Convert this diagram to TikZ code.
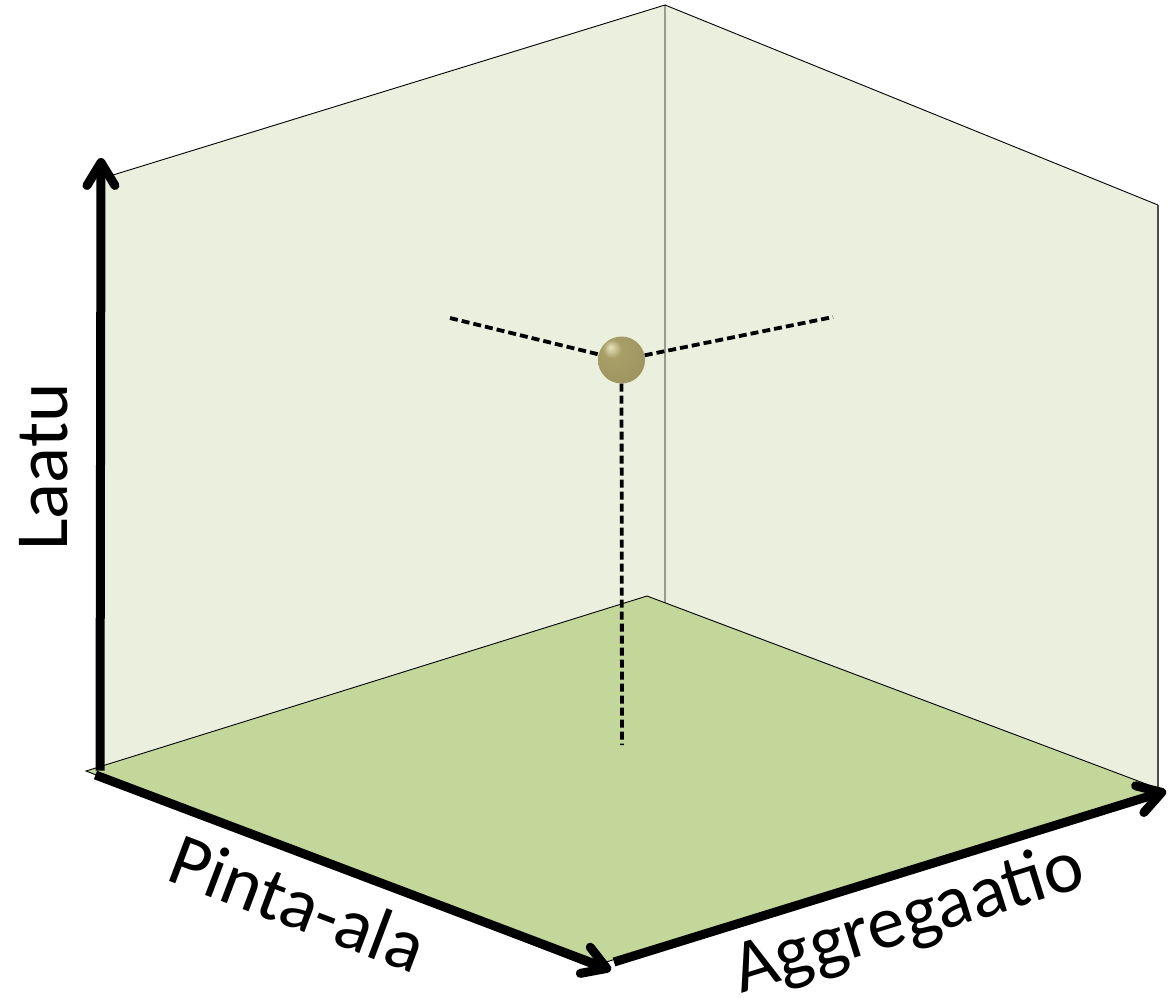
\documentclass[tikz,border=0pt]{standalone}
\usepackage{fontspec}
\setmainfont{Carlito}
\usetikzlibrary{arrows.meta}
\definecolor{wallc}{RGB}{235,240,222}
\definecolor{floorc}{RGB}{196,215,155}
\definecolor{ballhi}{RGB}{232,228,190}
\definecolor{ballc}{RGB}{168,158,104}
\definecolor{balldk}{RGB}{100,92,52}
\pgfdeclareradialshading{olivesphere}{\pgfpoint{-12bp}{14bp}}{%
  color(0bp)=(ballhi); color(10bp)=(ballc); color(34bp)=(ballc!85!balldk);
  color(48bp)=(balldk); color(60bp)=(balldk)}
\begin{document}
\begin{tikzpicture}[x=1pt,y=-1pt,
  axis/.style={line width=9pt,-{Straight Barb[length=23pt,width=28pt,round]}},
  edge/.style={line width=0.9pt,black},
  guide/.style={line width=3.8pt,dash pattern=on 8pt off 4pt},
  lab/.style={font=\fontsize{75}{85}\selectfont}]
\useasboundingbox (0,0) rectangle (1172,999);
% corners
\coordinate (LT) at (100,179);
\coordinate (BT) at (665,5);
\coordinate (BB) at (665,603);
\coordinate (RT) at (1158,205);
\coordinate (RB) at (1158,788);
\coordinate (FL) at (86,771);
\coordinate (FB) at (647,596);
\coordinate (FR) at (1162,790);
\coordinate (FF) at (590,967);
\coordinate (LB) at (100,766);
% walls
\fill[wallc] (LT) -- (BT) -- (BB) -- (FB) -- (LB) -- cycle;
\fill[wallc] (BT) -- (RT) -- (RB) -- (BB) -- cycle;
\draw[edge] (LT) -- (BT) -- (BB);
\draw[edge] (BT) -- (RT);
\draw[line width=1.2pt,black!70] (RT) -- (RB);
% floor
\filldraw[fill=floorc,draw=black,line width=0.9pt] (FL) -- (FB) -- (FR) -- (FF) -- cycle;
% guides and point
\node[circle,minimum size=47pt,inner sep=0pt,shading=olivesphere] (P) at (621.5,360) {};
\coordinate (GL) at (450,318);
\coordinate (GR) at (833,317);
\coordinate (GD) at (622,745);
\draw[guide] (GL) -- (P);
\draw[guide] (P) -- (GR);
\draw[guide] (P) -- (GD);
% axes
\coordinate (O) at (100,775);
\coordinate (Ztip) at (101,158);
\coordinate (Xtip) at (611,970);
\coordinate (Ystart) at (614,962);
\coordinate (Ytip) at (1166,791);
\draw[axis] ([yshift=4.5pt]O) -- (Ztip);
\draw[axis] ([xshift=-4.5pt]O) -- (Xtip);
\draw[axis] (Ystart) -- (Ytip);
% labels
\node[lab,rotate=90] (Lz) at (44,467) {Laatu};
\node[lab,rotate=-20.7] (Lx) at (298,903) {Pinta-ala};
\node[lab,rotate=17.3] (Ly) at (909,921) {Aggregaatio};
\end{tikzpicture}
\end{document}
